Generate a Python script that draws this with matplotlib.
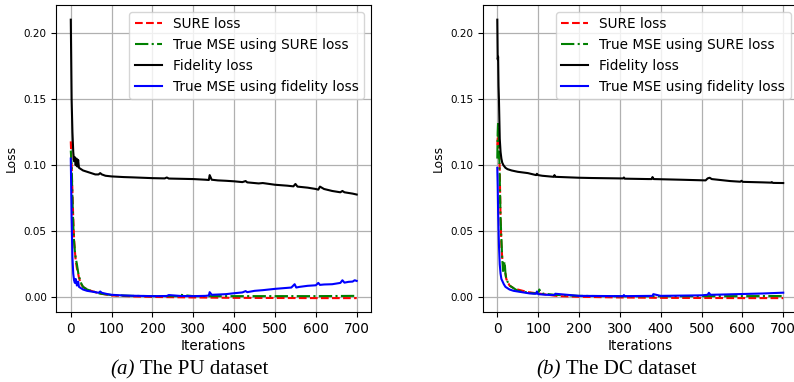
import matplotlib
matplotlib.use("Agg")
import matplotlib.pyplot as plt

# ---- PU dataset (left panel) ----
pu_fid_x = [0, 2, 4, 6, 8, 10, 12, 14, 16, 18, 20, 25, 30, 40, 50, 60, 68, 72, 76, 85, 100, 130, 150, 200, 230, 235, 240,
            270, 300, 330, 338, 340, 345, 360, 380, 400, 420, 428, 432, 460, 470, 500, 530, 545, 550, 555, 580, 600, 606, 610,
            620, 640, 660, 665, 670, 690, 700]
pu_fid_y = [0.210, 0.150, 0.125, 0.110, 0.103, 0.106, 0.100, 0.105, 0.099, 0.104, 0.098, 0.097, 0.096, 0.095, 0.094, 0.093,
            0.093, 0.094, 0.093, 0.092, 0.0915, 0.091, 0.0908, 0.0902, 0.0900, 0.0907, 0.0899, 0.0897, 0.0895, 0.0890, 0.0888,
            0.0925, 0.0890, 0.0885, 0.0882, 0.0878, 0.0872, 0.0880, 0.0870, 0.0862, 0.0865, 0.0852, 0.0845, 0.0840, 0.0858,
            0.0838, 0.0830, 0.0820, 0.0815, 0.0838, 0.0820, 0.0805, 0.0795, 0.0805, 0.0795, 0.0785, 0.0778]

pu_mse_fid_x = [0, 2, 4, 6, 8, 10, 12, 15, 18, 20, 25, 30, 40, 50, 60, 68, 72, 76, 90, 100, 130, 150, 200, 235, 240, 270,
                300, 330, 338, 340, 345, 360, 380, 400, 420, 428, 432, 450, 470, 500, 520, 540, 548, 552, 560, 580, 600,
                606, 610, 620, 640, 660, 665, 670, 680, 690, 695, 700]
pu_mse_fid_y = [0.105, 0.060, 0.030, 0.018, 0.013, 0.011, 0.014, 0.009, 0.012, 0.008, 0.007, 0.006, 0.005, 0.0045, 0.004,
                0.0035, 0.0045, 0.0035, 0.0025, 0.002, 0.0015, 0.0013, 0.0010, 0.0011, 0.0018, 0.0011, 0.0010, 0.0012, 0.0015,
                0.0040, 0.0020, 0.0022, 0.0025, 0.0032, 0.0038, 0.0048, 0.0040, 0.0050, 0.0055, 0.0065, 0.0070, 0.0075,
                0.0100, 0.0075, 0.0080, 0.0088, 0.0092, 0.0110, 0.0095, 0.0098, 0.0100, 0.0110, 0.0130, 0.0112, 0.0118,
                0.0120, 0.0130, 0.0125]

pu_sure_x = [0, 2, 4, 6, 8, 10, 12, 15, 18, 20, 25, 30, 40, 50, 70, 100, 150, 200, 250, 300, 400, 500, 600, 700]
pu_sure_y = [0.118, 0.100, 0.080, 0.060, 0.045, 0.035, 0.028, 0.022, 0.018, 0.015, 0.010, 0.008, 0.006, 0.005, 0.003,
             0.0015, 0.0008, 0.0004, 0.0002, 0.0000, -0.0003, -0.0004, -0.0005, -0.0005]

pu_mse_sure_x = [0, 2, 4, 6, 8, 10, 12, 15, 18, 20, 25, 30, 40, 50, 70, 100, 150, 200, 265, 268, 300, 400, 500, 600, 700]
pu_mse_sure_y = [0.111, 0.100, 0.075, 0.055, 0.042, 0.035, 0.030, 0.025, 0.019, 0.016, 0.011, 0.008, 0.006, 0.005, 0.003,
                 0.0018, 0.0012, 0.0010, 0.0010, 0.0020, 0.0010, 0.0010, 0.0010, 0.0010, 0.0012]

# ---- DC dataset (right panel) ----
dc_fid_x = [0, 1, 2, 3, 4, 5, 6, 8, 10, 12, 15, 20, 25, 35, 50, 75, 95, 97, 100, 110, 138, 140, 142, 200, 230, 300, 308,
            310, 312, 370, 378, 380, 383, 450, 510, 515, 520, 525, 540, 570, 595, 598, 601, 650, 670, 672, 675, 700]
dc_fid_y = [0.210, 0.180, 0.182, 0.160, 0.150, 0.135, 0.120, 0.110, 0.105, 0.102, 0.100, 0.098, 0.097, 0.096, 0.095, 0.094,
            0.0925, 0.0935, 0.0925, 0.092, 0.0912, 0.0925, 0.0912, 0.0905, 0.0903, 0.0900, 0.0900, 0.0907, 0.0898, 0.0895,
            0.0895, 0.0910, 0.0895, 0.0890, 0.0885, 0.0900, 0.0905, 0.0895, 0.0890, 0.0880, 0.0875, 0.0882, 0.0874,
            0.0870, 0.0868, 0.0872, 0.0866, 0.0865]

dc_mse_fid_x = [0, 1, 2, 4, 6, 8, 10, 13, 16, 20, 25, 30, 40, 60, 80, 95, 97, 100, 120, 140, 142, 200, 300, 308, 310,
                312, 380, 382, 400, 450, 500, 515, 518, 522, 550, 600, 650, 700]
dc_mse_fid_y = [0.098, 0.085, 0.065, 0.040, 0.025, 0.018, 0.014, 0.012, 0.010, 0.008, 0.007, 0.006, 0.005, 0.004, 0.003,
                0.0028, 0.0045, 0.0025, 0.0020, 0.0018, 0.0028, 0.0012, 0.0010, 0.0010, 0.0018, 0.0010, 0.0012, 0.0025,
                0.0012, 0.0014, 0.0016, 0.0020, 0.0035, 0.0020, 0.0022, 0.0026, 0.0030, 0.0036]

dc_sure_x = [0, 2, 4, 6, 8, 10, 12, 15, 18, 20, 22, 25, 30, 40, 50, 75, 100, 150, 200, 300, 400, 500, 600, 700]
dc_sure_y = [0.115, 0.125, 0.118, 0.095, 0.060, 0.040, 0.030, 0.024, 0.022, 0.018, 0.014, 0.012, 0.009, 0.007, 0.006,
             0.004, 0.003, 0.001, 0.0005, 0.0000, -0.0003, -0.0004, -0.0005, -0.0005]

dc_mse_sure_x = [0, 1, 2, 3, 4, 6, 8, 10, 12, 14, 16, 18, 20, 22, 25, 30, 40, 50, 70, 90, 100, 103, 106, 110, 140, 200,
                 300, 400, 500, 600, 700]
dc_mse_sure_y = [0.105, 0.125, 0.133, 0.128, 0.118, 0.090, 0.060, 0.045, 0.030, 0.020, 0.024, 0.027, 0.018, 0.014, 0.012,
                 0.009, 0.007, 0.005, 0.004, 0.003, 0.0035, 0.006, 0.004, 0.003, 0.002, 0.0012, 0.0009, 0.0009, 0.0010,
                 0.0010, 0.0011]

panels = [
    ("(a)", " The PU dataset", pu_sure_x, pu_sure_y, pu_mse_sure_x, pu_mse_sure_y,
     pu_fid_x, pu_fid_y, pu_mse_fid_x, pu_mse_fid_y),
    ("(b)", " The DC dataset", dc_sure_x, dc_sure_y, dc_mse_sure_x, dc_mse_sure_y,
     dc_fid_x, dc_fid_y, dc_mse_fid_x, dc_mse_fid_y),
]

W, H = 794, 382
fig = plt.figure(figsize=(W / 100, H / 100), dpi=100)

# axes boxes in pixels: left, top, right, bottom
boxes = [(56.5, 5, 371, 312), (483, 5, 797.5, 312)]
caption_split = [135, 561]

for (tag, cap, sx, sy, msx, msy, fx, fy, mfx, mfy), box, split in zip(panels, boxes, caption_split):
    l, t, r, b = box
    ax = fig.add_axes([l / W, 1 - b / H, (r - l) / W, (b - t) / H])
    ax.plot(sx, sy, '--', color='red', lw=1.5, label='SURE loss')
    ax.plot(msx, msy, '-.', color='green', lw=1.5, label='True MSE using SURE loss')
    ax.plot(fx, fy, '-', color='black', lw=1.5, label='Fidelity loss')
    ax.plot(mfx, mfy, '-', color='blue', lw=1.5, label='True MSE using fidelity loss')
    ax.set_xticks([0, 100, 200, 300, 400, 500, 600, 700])
    ax.set_yticks([0.0, 0.05, 0.10, 0.15, 0.20])
    ax.set_xlim(-35, 735)
    ax.set_ylim(-0.011, 0.2211)
    ax.tick_params(axis='x', labelsize=9.8)
    ax.tick_params(axis='y', labelsize=7.5)
    ax.grid(True, color='#b0b0b0', lw=0.9)
    ax.set_axisbelow(True)
    ax.set_xlabel("Iterations", fontsize=9.8, labelpad=2)
    ax.set_ylabel("Loss", fontsize=8.8)
    ax.legend(loc='upper right', fontsize=9.8, handlelength=2.0, borderaxespad=0.5)

    fig.text(split / W, 1 - 374 / H, tag, ha='right', va='baseline',
             fontsize=15, family='Liberation Serif', style='italic')
    fig.text(split / W, 1 - 374 / H, cap, ha='left', va='baseline',
             fontsize=15, family='Liberation Serif')

fig.savefig("out.png", dpi=100)
